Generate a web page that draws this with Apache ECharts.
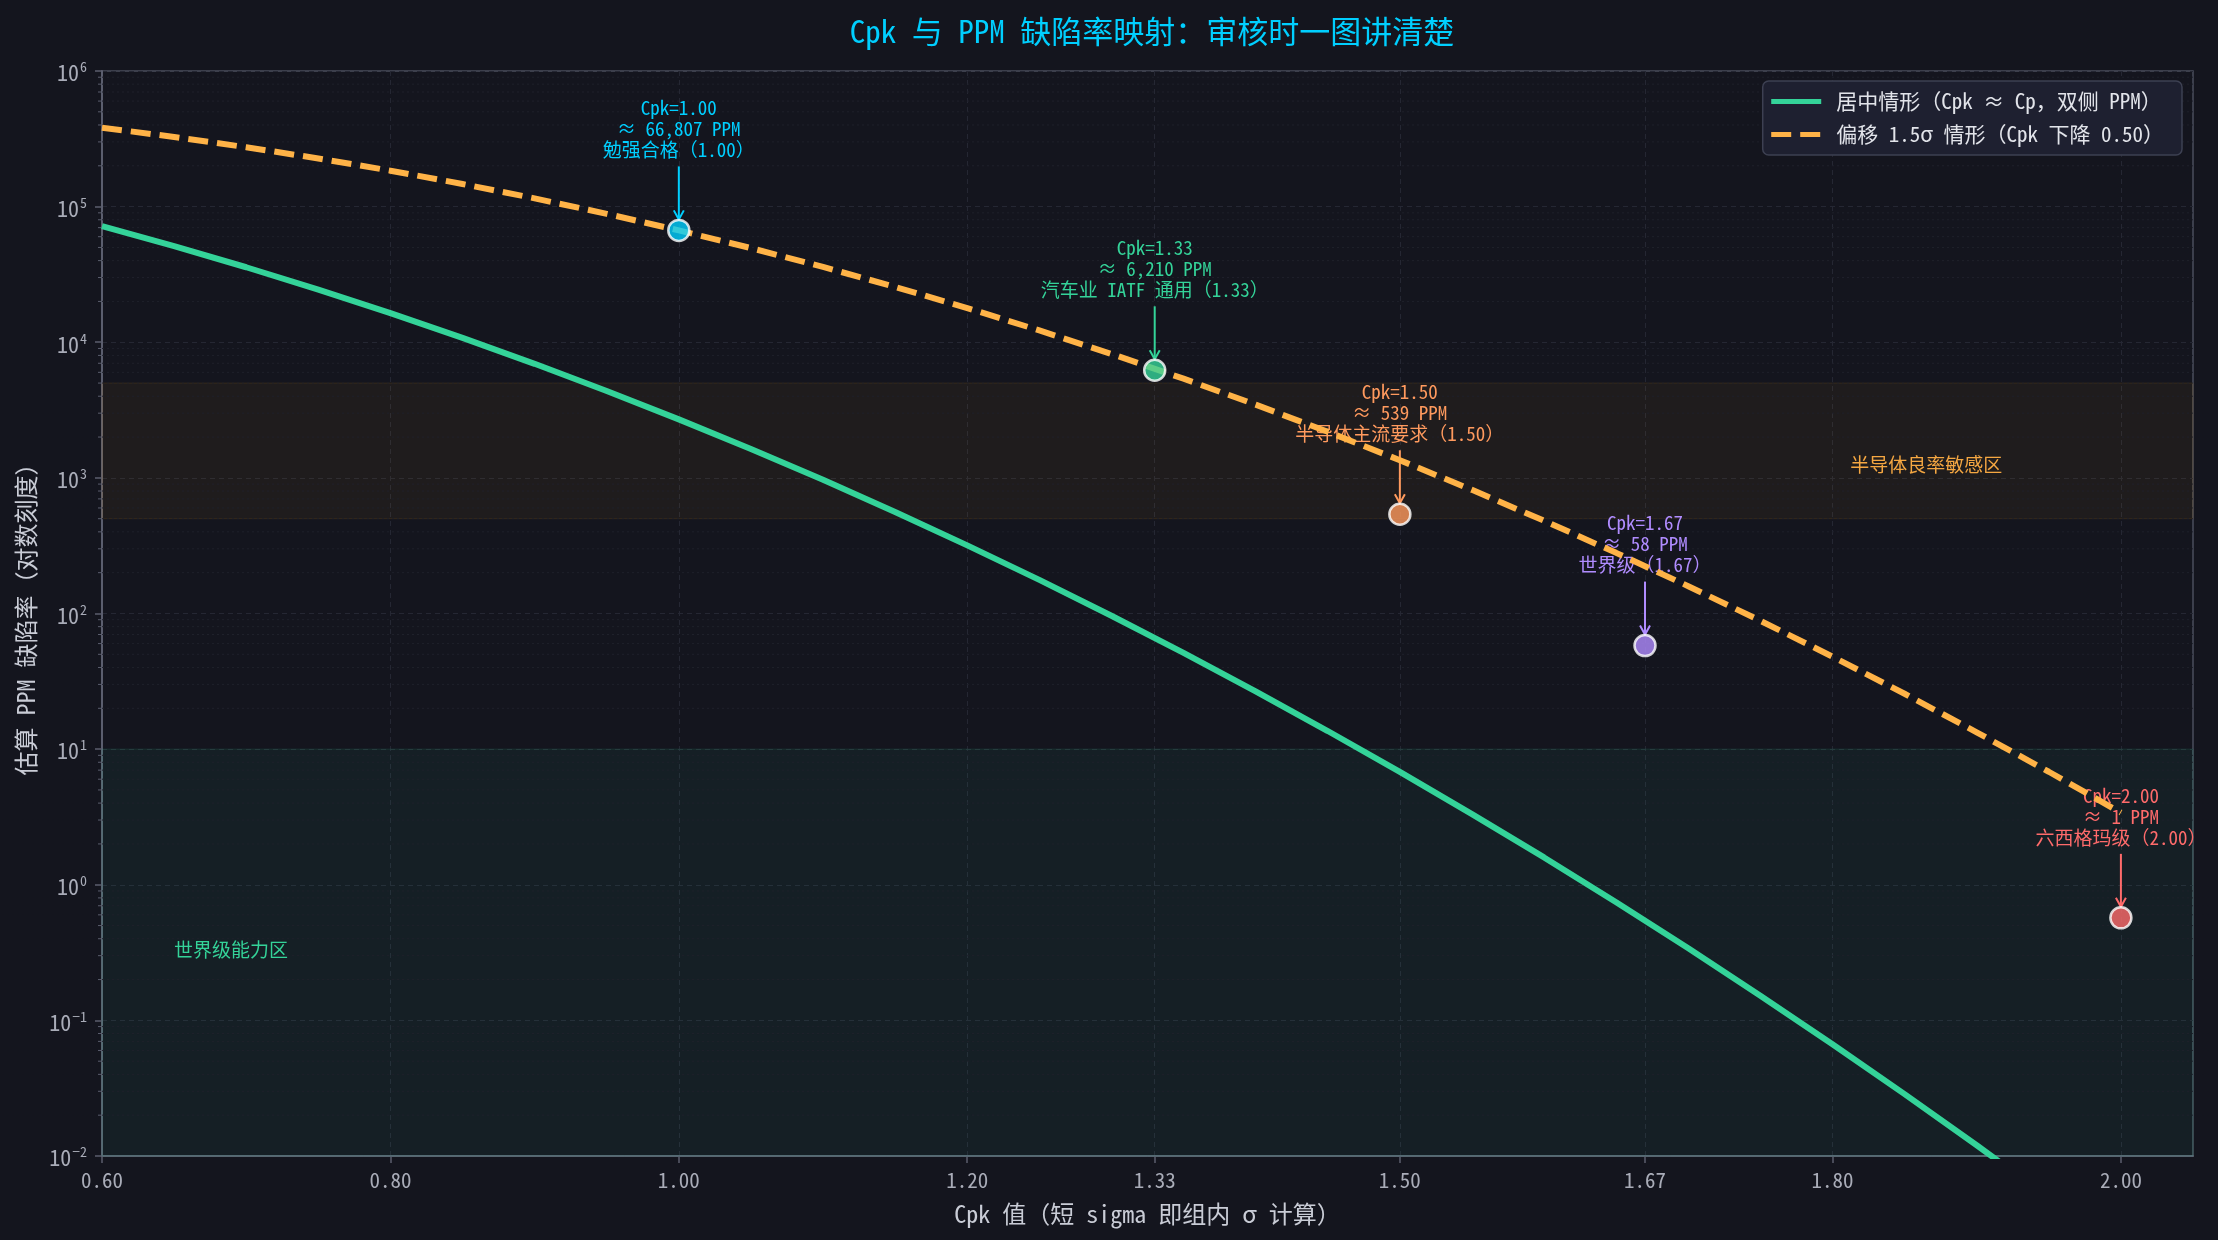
<!DOCTYPE html>
<html lang="zh-CN">
<head>
<meta charset="UTF-8">
<title>Cpk 与 PPM 缺陷率映射</title>
<script src="https://cdn.jsdelivr.net/npm/echarts@6.0.0/dist/echarts.min.js"></script>
<style>
    html, body { margin: 0; padding: 0; background: #14151e; }
    #chart { width: 2218px; height: 1240px; }
</style>
</head>
<body>
<div id="chart"></div>
<script>
    // 曲线取样点（Cpk）
    const cpkSteps = [0.60, 0.65, 0.70, 0.75, 0.80, 0.85, 0.90, 0.95, 1.00, 1.05,
        1.10, 1.15, 1.20, 1.25, 1.30, 1.35, 1.40, 1.45, 1.50, 1.55,
        1.60, 1.65, 1.70, 1.75, 1.80, 1.85, 1.90, 1.95, 2.00];
    // 居中情形（双侧 PPM）
    const ppmCentered = [71860, 51176, 35729, 24449, 16395, 10772, 6934, 4372, 2700, 1633,
        967, 561, 318, 177, 96.2, 51.2, 26.7, 13.6, 6.80, 3.32,
        1.59, 0.742, 0.340, 0.152, 0.0666, 0.0286, 0.0120, 0.00492, 0.00197];
    // 偏移 1.5σ 情形
    const ppmShifted = [382089, 326355, 274253, 226627, 184060, 146859, 115070, 88508, 66807, 49471,
        35930, 25588, 17864, 12224, 8198, 5386, 3467, 2186, 1350, 816,
        483, 280, 159, 88.4, 48.1, 25.6, 13.3, 6.81, 3.40];

    // 关键节点
    const keyCpk = [1.00, 1.33, 1.50, 1.67, 2.00];
    const keyPpm = [66807, 6210, 539, 58, 0.57];
    const keyPpmText = ['66,807', '6,210', '539', '58', '1'];
    const keyNote = ['勉强合格（1.00）', '汽车业 IATF 通用（1.33）', '半导体主流要求（1.50）', '世界级（1.67）', '六西格玛级（2.00）'];
    const keyColor = ['#00cfff', '#34d399', '#ff9a5e', '#b08cff', '#ff6b6b'];

    // 刻度与区域
    const xTicks = [0.60, 0.80, 1.00, 1.20, 1.33, 1.50, 1.67, 1.80, 2.00];
    const semiBand = [500, 5000];
    const worldBand = [0.01, 10];
    const zoneLabels = [
        { x: 1.865, y: 1250, text: '半导体良率敏感区', color: '#f5a742', align: 'center' },
        { x: 0.65, y: 0.33, text: '世界级能力区', color: '#34d399', align: 'left' }
    ];

    const X_MIN = 0.6, X_MAX = 2.05;
    const FONT = "'Noto Sans Mono CJK SC', 'Noto Sans CJK SC', 'DejaVu Sans Mono', monospace";

    // 对数轴次刻度 2..9 × 10^n
    const minorTicks = [];
    for (let e = -2; e < 6; e++) {
        for (let m = 2; m <= 9; m++) minorTicks.push(m * Math.pow(10, e));
    }

    const chart = echarts.init(document.getElementById('chart'));

    const option = {
        backgroundColor: '#14151e',
        animation: false,
        title: {
            text: 'Cpk 与 PPM 缺陷率映射：审核时一图讲清楚',
            left: 1147,
            textAlign: 'center',
            top: 11,
            textStyle: { color: '#00cfff', fontSize: 31, fontWeight: 'normal', fontFamily: FONT }
        },
        legend: {
            data: ['居中情形（Cpk ≈ Cp，双侧 PPM）', '偏移 1.5σ 情形（Cpk 下降 0.50）'],
            orient: 'vertical',
            right: 36,
            top: 81,
            itemWidth: 50,
            itemHeight: 20,
            itemGap: 12,
            padding: [10, 18, 10, 6],
            backgroundColor: '#1e2030',
            borderColor: '#3d4052',
            borderWidth: 1.5,
            borderRadius: 6,
            itemStyle: { opacity: 0 },
            lineStyle: { width: 5 },
            textStyle: { color: '#e2e4ea', fontSize: 21, fontFamily: FONT, padding: [0, 0, 0, 10] }
        },
        grid: {
            left: 102, right: 25, top: 71, bottom: 84,
            show: true,
            borderColor: '#4a4d5c',
            borderWidth: 1.5,
            backgroundColor: 'transparent'
        },
        xAxis: {
            type: 'value',
            min: X_MIN,
            max: X_MAX,
            name: 'Cpk 值（短 sigma 即组内 σ 计算）',
            nameLocation: 'middle',
            nameGap: 46,
            nameTextStyle: { color: '#c9ccd6', fontSize: 24, fontFamily: FONT },
            axisLine: { show: true, lineStyle: { color: '#5b5e6e', width: 2 } },
            axisTick: { show: true, customValues: xTicks, length: 7, lineStyle: { color: '#5b5e6e', width: 1.5 } },
            axisLabel: {
                customValues: xTicks,
                margin: 14,
                color: '#a9acb8',
                fontSize: 21,
                fontFamily: FONT,
                formatter: v => v.toFixed(2)
            },
            splitLine: { show: true, lineStyle: { color: '#252733', type: [5, 4], width: 1 } }
        },
        yAxis: {
            type: 'log',
            logBase: 10,
            min: 0.01,
            max: 1e6,
            splitNumber: 8,
            name: '估算 PPM 缺陷率（对数刻度）',
            nameLocation: 'middle',
            nameRotate: 90,
            nameGap: 62,
            nameTextStyle: { color: '#c9ccd6', fontSize: 24, fontFamily: FONT },
            axisLine: { show: true, lineStyle: { color: '#5b5e6e', width: 2 } },
            axisTick: { show: true, length: 7, lineStyle: { color: '#5b5e6e', width: 1.5 } },
            axisLabel: {
                margin: 15,
                color: '#a9acb8',
                formatter: v => {
                    const e = Math.round(Math.log10(v));
                    return '{b|10}{s|' + (e < 0 ? '−' + (-e) : e) + '}';
                },
                rich: {
                    b: { fontSize: 22, fontFamily: FONT, color: '#a9acb8', verticalAlign: 'bottom', lineHeight: 26 },
                    s: { fontSize: 14, fontFamily: FONT, color: '#a9acb8', verticalAlign: 'bottom', lineHeight: 26, padding: [0, 0, 10, 1] }
                }
            },
            splitLine: { show: true, lineStyle: { color: '#252733', type: [5, 4], width: 1 } }
        },
        series: [
            {
                // 次刻度网格 + 区域底色
                type: 'custom',
                name: 'minor',
                z: 1,
                silent: true,
                clip: false,
                data: minorTicks.map(v => [X_MIN, v]),
                renderItem: (params, api) => {
                    const v = api.value(1);
                    const p0 = api.coord([X_MIN, v]);
                    const p1 = api.coord([X_MAX, v]);
                    return {
                        type: 'group',
                        children: [
                            { type: 'line', shape: { x1: p0[0], y1: p0[1], x2: p1[0], y2: p1[1] },
                              style: { stroke: '#1f212b', lineWidth: 1, lineDash: [2, 3] } },
                            { type: 'line', shape: { x1: p0[0] - 4, y1: p0[1], x2: p0[0], y2: p0[1] },
                              style: { stroke: '#5b5e6e', lineWidth: 1 } }
                        ]
                    };
                },
                markArea: {
                    silent: true,
                    data: [
                        [{ yAxis: semiBand[0], itemStyle: { color: 'rgba(245,158,11,0.055)', borderColor: 'rgba(245,158,11,0.12)', borderWidth: 1 } },
                         { yAxis: semiBand[1] }],
                        [{ yAxis: worldBand[0], itemStyle: { color: 'rgba(52,211,153,0.06)', borderColor: 'rgba(52,211,153,0.14)', borderWidth: 1 } },
                         { yAxis: worldBand[1] }]
                    ]
                }
            },
            {
                // 区域文字
                type: 'custom',
                name: 'zones',
                z: 2,
                silent: true,
                data: zoneLabels.map(d => [d.x, d.y]),
                renderItem: (params, api) => {
                    const d = zoneLabels[params.dataIndex];
                    const p = api.coord([api.value(0), api.value(1)]);
                    return {
                        type: 'text',
                        x: p[0], y: p[1],
                        style: { text: d.text, fill: d.color, fontSize: 19, fontFamily: FONT,
                                 align: d.align, verticalAlign: 'middle' }
                    };
                }
            },
            {
                // 关键节点注释与箭头
                type: 'custom',
                name: 'notes',
                z: 2,
                silent: true,
                clip: false,
                data: keyCpk.map((c, i) => [c, keyPpm[i]]),
                renderItem: (params, api) => {
                    const i = params.dataIndex;
                    const p = api.coord([api.value(0), api.value(1)]);
                    const col = keyColor[i];
                    const txt = 'Cpk=' + keyCpk[i].toFixed(2) + '\n≈ ' + keyPpmText[i] + ' PPM\n' + keyNote[i];
                    return {
                        type: 'group',
                        children: [
                            { type: 'text', x: p[0], y: p[1] - 70,
                              style: { text: txt, fill: col, fontSize: 19, fontFamily: FONT, lineHeight: 21,
                                       align: 'center', verticalAlign: 'bottom' } },
                            { type: 'line', shape: { x1: p[0], y1: p[1] - 64, x2: p[0], y2: p[1] - 11 },
                              style: { stroke: col, lineWidth: 2 } },
                            { type: 'polyline', shape: { points: [[p[0] - 5, p[1] - 20], [p[0], p[1] - 11], [p[0] + 5, p[1] - 20]] },
                              style: { stroke: col, lineWidth: 2, fill: null } }
                        ]
                    };
                }
            },
            {
                type: 'line',
                name: '居中情形（Cpk ≈ Cp，双侧 PPM）',
                z: 3,
                data: cpkSteps.map((c, i) => [c, ppmCentered[i]]),
                showSymbol: false,
                symbol: 'none',
                smooth: false,
                lineStyle: { color: '#34d399', width: 6 },
                itemStyle: { color: '#34d399' }
            },
            {
                type: 'line',
                name: '偏移 1.5σ 情形（Cpk 下降 0.50）',
                z: 3,
                data: cpkSteps.map((c, i) => [c, ppmShifted[i]]),
                showSymbol: false,
                symbol: 'none',
                smooth: false,
                lineStyle: { color: '#ffb347', width: 6, type: [20, 9] },
                itemStyle: { color: '#ffb347' }
            },
            {
                type: 'scatter',
                name: 'key',
                z: 5,
                symbolSize: 21,
                data: keyCpk.map((c, i) => ({
                    value: [c, keyPpm[i]],
                    itemStyle: { color: keyColor[i], borderColor: '#ffffff', borderWidth: 2.5 }
                }))
            }
        ]
    };

    chart.setOption(option);
</script>
</body>
</html>
